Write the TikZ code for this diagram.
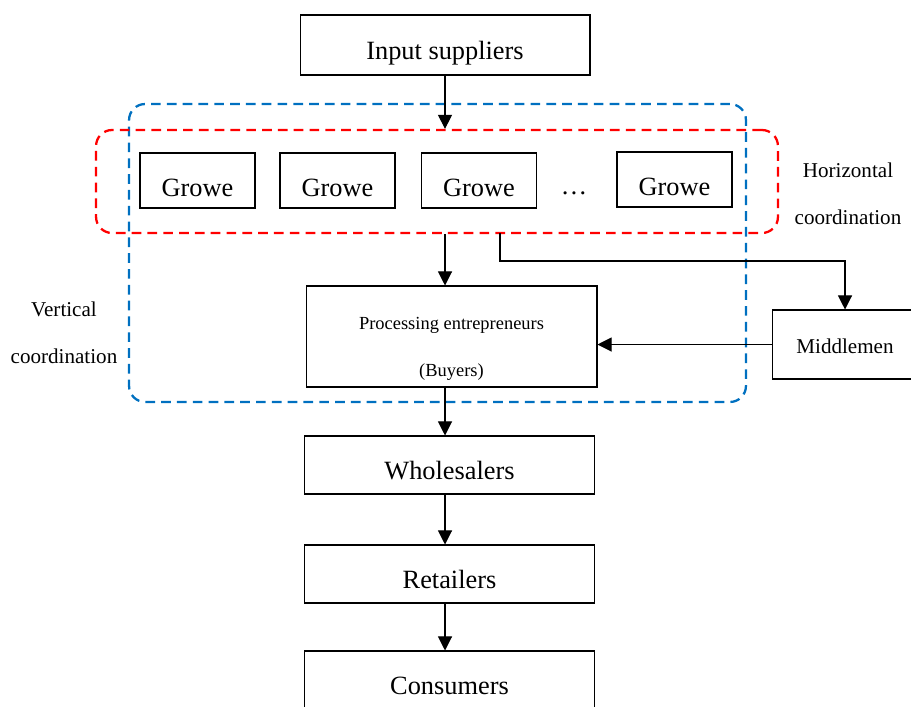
\documentclass[tikz,border=0pt]{standalone}
\usepackage{fontspec}
\setmainfont{Liberation Serif}
\usepackage{tikz}
\usetikzlibrary{positioning, calc, arrows.meta}
\definecolor{hred}{RGB}{255, 0, 0}
\definecolor{vblue}{RGB}{0, 112, 192}

\begin{document}
\begin{tikzpicture}[
    x=0.02cm, y=-0.02cm,
    every node/.style={align=center},
    box/.style={draw, line width=0.6pt, minimum width=5.8cm, minimum height=1.16cm, text height=17pt, text depth=0pt, font=\fontsize{15}{18}\selectfont},
    grower/.style={draw, line width=0.6pt, minimum width=2.3cm, minimum height=1.1cm, text height=18pt, text depth=0pt, font=\fontsize{15}{18}\selectfont},
    label/.style={font=\fontsize{12}{27}\selectfont},
    coord/.style={line width=1.3pt, dash pattern=on 5.5pt off 3.5pt, rounded corners=0.32cm},
    arr/.style={line width=0.6pt, -{Triangle[length=8pt, width=8pt]}}
]
    \clip (0,0) rectangle (911,706);

    % Coordination areas
    \node[coord, draw=vblue, minimum width=12.34cm, minimum height=5.96cm] (vbox) at (437.5,253) {};
    \node[coord, draw=hred, minimum width=13.64cm, minimum height=2.06cm] (hbox) at (437,181.5) {};
    \node[label] (hlab) at (848,194) {Horizontal\\coordination};
    \node[label] (vlab) at (64,333) {Vertical\\coordination};

    % Input
    \node[box, minimum height=1.2cm] (input) at (445,45) {Input suppliers};

    % Growers
    \node[grower] (g1) at (197.5,180.5) {Growe};
    \node[grower] (g2) at (337.5,180.5) {Growe};
    \node[grower] (g3) at (479,180.5) {Growe};
    \node[font=\fontsize{15}{18}\selectfont] (dots) at (574,193) {…};
    \node[grower] (g4) at (674.5,179.5) {Growe};

    % Buyers and middlemen
    \node[box, minimum width=5.82cm, minimum height=2.02cm, text height=48pt, text depth=2pt, font=\fontsize{10.5}{27}\selectfont] (proc) at (451.5,336.5) {Processing entrepreneurs\\(Buyers)};
    \node[box, minimum width=2.92cm, minimum height=1.38cm, text height=10pt, text depth=0pt, font=\fontsize{12}{14}\selectfont] (mid) at (845,344.5) {Middlemen};

    % Distribution chain
    \node[box] (whole) at (449.5,465) {Wholesalers};
    \node[box] (retail) at (449.5,574) {Retailers};
    \node[box] (cons) at (449.5,680) {Consumers};

    % Connections
    \coordinate (tap) at (500,233);
    \draw[arr] (input.south) -- (input.south |- hbox.north);
    \draw[arr] (input.south |- hbox.south) -- (input.south |- proc.north);
    \draw[arr] (tap) -- ++(0,28) -| (mid.north);
    \draw[arr] (mid.west) -- (mid.west -| proc.east);
    \foreach \i/\j in {proc/whole, whole/retail, retail/cons} {
        \draw[arr] (input.south |- \i.south) -- (input.south |- \j.north);
    }
\end{tikzpicture}
\end{document}
